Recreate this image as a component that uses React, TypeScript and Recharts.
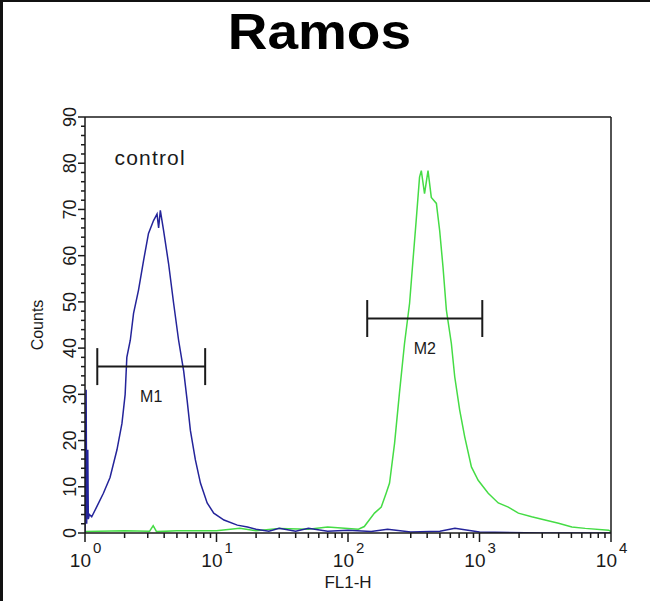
import { ComposedChart, Line, XAxis, YAxis, ReferenceLine, ReferenceDot, Label } from "recharts";

// control histogram (blue)
const blueFl = [1.0, 1.02, 1.03, 1.05, 1.06, 1.08, 1.125, 1.23, 1.38, 1.55, 1.75, 1.91, 2.02, 2.08, 2.21, 2.34, 2.55, 2.79, 3.04, 3.32, 3.53, 3.63, 3.74, 3.96, 4.32, 4.72, 5.15, 5.63, 5.98, 6.33, 6.91, 7.55, 8.49, 9.53, 11.4, 14.4, 17.2, 20, 25, 30, 40, 50, 70, 100, 150, 200, 300, 500, 650, 1000, 3000, 10000];
const blueCounts = [0, 31, 2, 18, 3, 4, 3.5, 5.7, 8.6, 12, 18, 23.7, 30, 38, 41.7, 47.5, 52.5, 59, 64.8, 67.6, 69, 66, 69.8, 65.4, 58.3, 49.7, 41.7, 35, 28.7, 22.2, 15.8, 10.8, 6.5, 4.3, 2.8, 1.7, 1.3, 0.8, 0.4, 1, 0.4, 1, 0.4, 0.6, 0.3, 0.8, 0.2, 0.4, 1, 0.2, 0, 0];

// sample histogram (green)
const greenFl = [1, 2, 3.1, 3.3, 3.5, 5, 10, 15, 20, 30, 50, 70, 100, 120, 133, 159, 179, 195, 207, 226, 246, 269, 294, 312, 330, 350, 361, 382, 406, 430, 470, 498, 528, 560, 611, 648, 707, 772, 868, 977, 1165, 1389, 1656, 1974, 2494, 3150, 3990, 5040, 6370, 9600, 10000];
const greenCounts = [0.3, 0.5, 0.4, 1.6, 0.3, 0.5, 0.5, 1, 0.5, 1, 0.8, 1.3, 1, 0.8, 1.4, 4.3, 5.6, 8.6, 10.8, 19.4, 30.2, 41, 49.7, 59, 67.6, 77, 78.4, 73.4, 78.4, 72.6, 71.3, 65.4, 57.5, 48.2, 41, 33.8, 26.6, 20.8, 14.3, 11.4, 8.6, 6.5, 5.6, 4.3, 3.5, 2.8, 2.1, 1.3, 1.0, 0.6, 0.3];

// gates
const markerNames = ["M1", "M2"];
const markerStart = [1.24, 140];
const markerEnd = [8.2, 1050];
const markerLevel = [36, 46.4];

const yMajor = [0, 10, 20, 30, 40, 50, 60, 70, 80, 90];
const xDecades = [1, 10, 100, 1000, 10000];

const yTicks: number[] = [];
for (let v = 0; v <= 90; v += 2) yTicks.push(v);
const xTicks: number[] = [];
xDecades.slice(0, 4).forEach((d) => {
  for (let m = 1; m <= 9; m++) xTicks.push(m * d);
});
xTicks.push(10000);

const blueData = blueFl.map((x, i) => ({ x, y: blueCounts[i] }));
const greenData = greenFl.map((x, i) => ({ x, y: greenCounts[i] }));

const font = "'Liberation Sans', Arial, sans-serif";
const ink = "#1a1a1a";

const XTick = (props: any) => {
  const { x, y, payload } = props;
  const v = payload.value;
  const idx = xDecades.indexOf(v);
  const major = idx >= 0;
  return (
    <g>
      <line x1={x} x2={x} y1={y} y2={y + (major ? 9 : 5)} stroke={ink} strokeWidth={1.5} />
      {major && (
        <g fontFamily={font} fill={ink}>
          <text x={x + 6} y={y + 34} textAnchor="end" fontSize={19}>10</text>
          <text x={x + 8} y={y + 20} textAnchor="start" fontSize={15}>{idx}</text>
        </g>
      )}
    </g>
  );
};

const YTick = (props: any) => {
  const { x, y, payload } = props;
  const v = payload.value;
  const major = yMajor.includes(v);
  const tx = x - 9;
  return (
    <g>
      <line x1={x} x2={x - (major ? 7 : 4)} y1={y} y2={y} stroke={ink} strokeWidth={1.5} />
      {major && (
        <text x={tx} y={y} transform={`rotate(-90 ${tx} ${y})`} textAnchor="middle" fontSize={18} fontFamily={font} fill={ink}>
          {v}
        </text>
      )}
    </g>
  );
};

export default function App() {
  return (
    <div style={{ position: "absolute", left: 0, top: 0, width: 650, height: 601, background: "#fff" }}>
      <div style={{ position: "absolute", left: 0, top: 0, width: 3, height: 601, background: "#111" }} />
      <div style={{ position: "absolute", left: 0, top: 0, width: 650, height: 2, background: "#111" }} />
      <div
        style={{
          position: "absolute",
          left: 0,
          width: 650,
          top: 3,
          textAlign: "center",
          fontFamily: font,
          fontWeight: "bold",
          fontSize: 50,
          color: "#000",
          lineHeight: "58px",
        }}
      >
        <span style={{ display: "inline-block", transform: "scaleX(1.1)", marginLeft: -12 }}>Ramos</span>
      </div>
      <ComposedChart width={650} height={601} data={blueData} margin={{ top: 116, right: 38, bottom: 18, left: 25 }}>
        <XAxis
          dataKey="x"
          type="number"
          scale="log"
          domain={[1, 10000]}
          ticks={xTicks}
          interval={0}
          tick={<XTick />}
          tickLine={false}
          tickSize={0}
          tickMargin={0}
          height={50}
          axisLine={{ stroke: ink, strokeWidth: 1.5 }}
          allowDataOverflow
        >
          <Label
            content={(p: any) => {
              const vb = p.viewBox;
              return (
                <text x={vb.x + vb.width / 2} y={vb.y + 55} textAnchor="middle" fontSize={17} fontFamily={font} fill={ink}>
                  FL1-H
                </text>
              );
            }}
          />
        </XAxis>
        <XAxis xAxisId="top" orientation="top" type="number" scale="log" domain={[1, 10000]} tick={false} tickLine={false} height={1} axisLine={{ stroke: ink, strokeWidth: 1.5 }} />
        <YAxis
          type="number"
          domain={[0, 90]}
          ticks={yTicks}
          interval={0}
          tick={<YTick />}
          tickLine={false}
          tickSize={0}
          tickMargin={0}
          width={60}
          axisLine={{ stroke: ink, strokeWidth: 1.5 }}
          allowDataOverflow
        >
          <Label
            content={(p: any) => {
              const vb = p.viewBox;
              const cx = vb.x + 18;
              const cy = vb.y + vb.height / 2;
              return (
                <text x={cx} y={cy} transform={`rotate(-90 ${cx} ${cy})`} textAnchor="middle" fontSize={16} fontFamily={font} fill={ink}>
                  Counts
                </text>
              );
            }}
          />
        </YAxis>
        <YAxis yAxisId="right" orientation="right" type="number" domain={[0, 90]} tick={false} tickLine={false} width={1} axisLine={{ stroke: ink, strokeWidth: 1.5 }} />

        <Line data={greenData} dataKey="y" type="linear" stroke="#45dc45" strokeWidth={1.5} dot={false} isAnimationActive={false} />
        <Line data={blueData} dataKey="y" type="linear" stroke="#24249a" strokeWidth={1.5} dot={false} isAnimationActive={false} />

        {markerNames.map((name, i) => (
          <ReferenceLine key={name} segment={[{ x: markerStart[i], y: markerLevel[i] }, { x: markerEnd[i], y: markerLevel[i] }]} stroke={ink} strokeWidth={2} ifOverflow="visible" />
        ))}
        {markerNames.map((name, i) => (
          <ReferenceLine key={name + "a"} segment={[{ x: markerStart[i], y: markerLevel[i] - 4 }, { x: markerStart[i], y: markerLevel[i] + 4 }]} stroke={ink} strokeWidth={2} ifOverflow="visible" />
        ))}
        {markerNames.map((name, i) => (
          <ReferenceLine key={name + "b"} segment={[{ x: markerEnd[i], y: markerLevel[i] - 4 }, { x: markerEnd[i], y: markerLevel[i] + 4 }]} stroke={ink} strokeWidth={2} ifOverflow="visible" />
        ))}
        {markerNames.map((name, i) => (
          <ReferenceDot
            key={name + "l"}
            x={Math.sqrt(markerStart[i] * markerEnd[i])}
            y={markerLevel[i] - 6.5}
            r={0}
            fill="none"
            stroke="none"
            ifOverflow="visible"
            label={{ value: name, position: "center", fontSize: 16, fontFamily: font, fill: ink }}
          />
        ))}
        <ReferenceDot
          x={3.13}
          y={81.2}
          r={0}
          fill="none"
          stroke="none"
          label={{ value: "control", position: "center", fontSize: 21, fontFamily: font, fill: ink, letterSpacing: 1.2 }}
        />
      </ComposedChart>
    </div>
  );
}
